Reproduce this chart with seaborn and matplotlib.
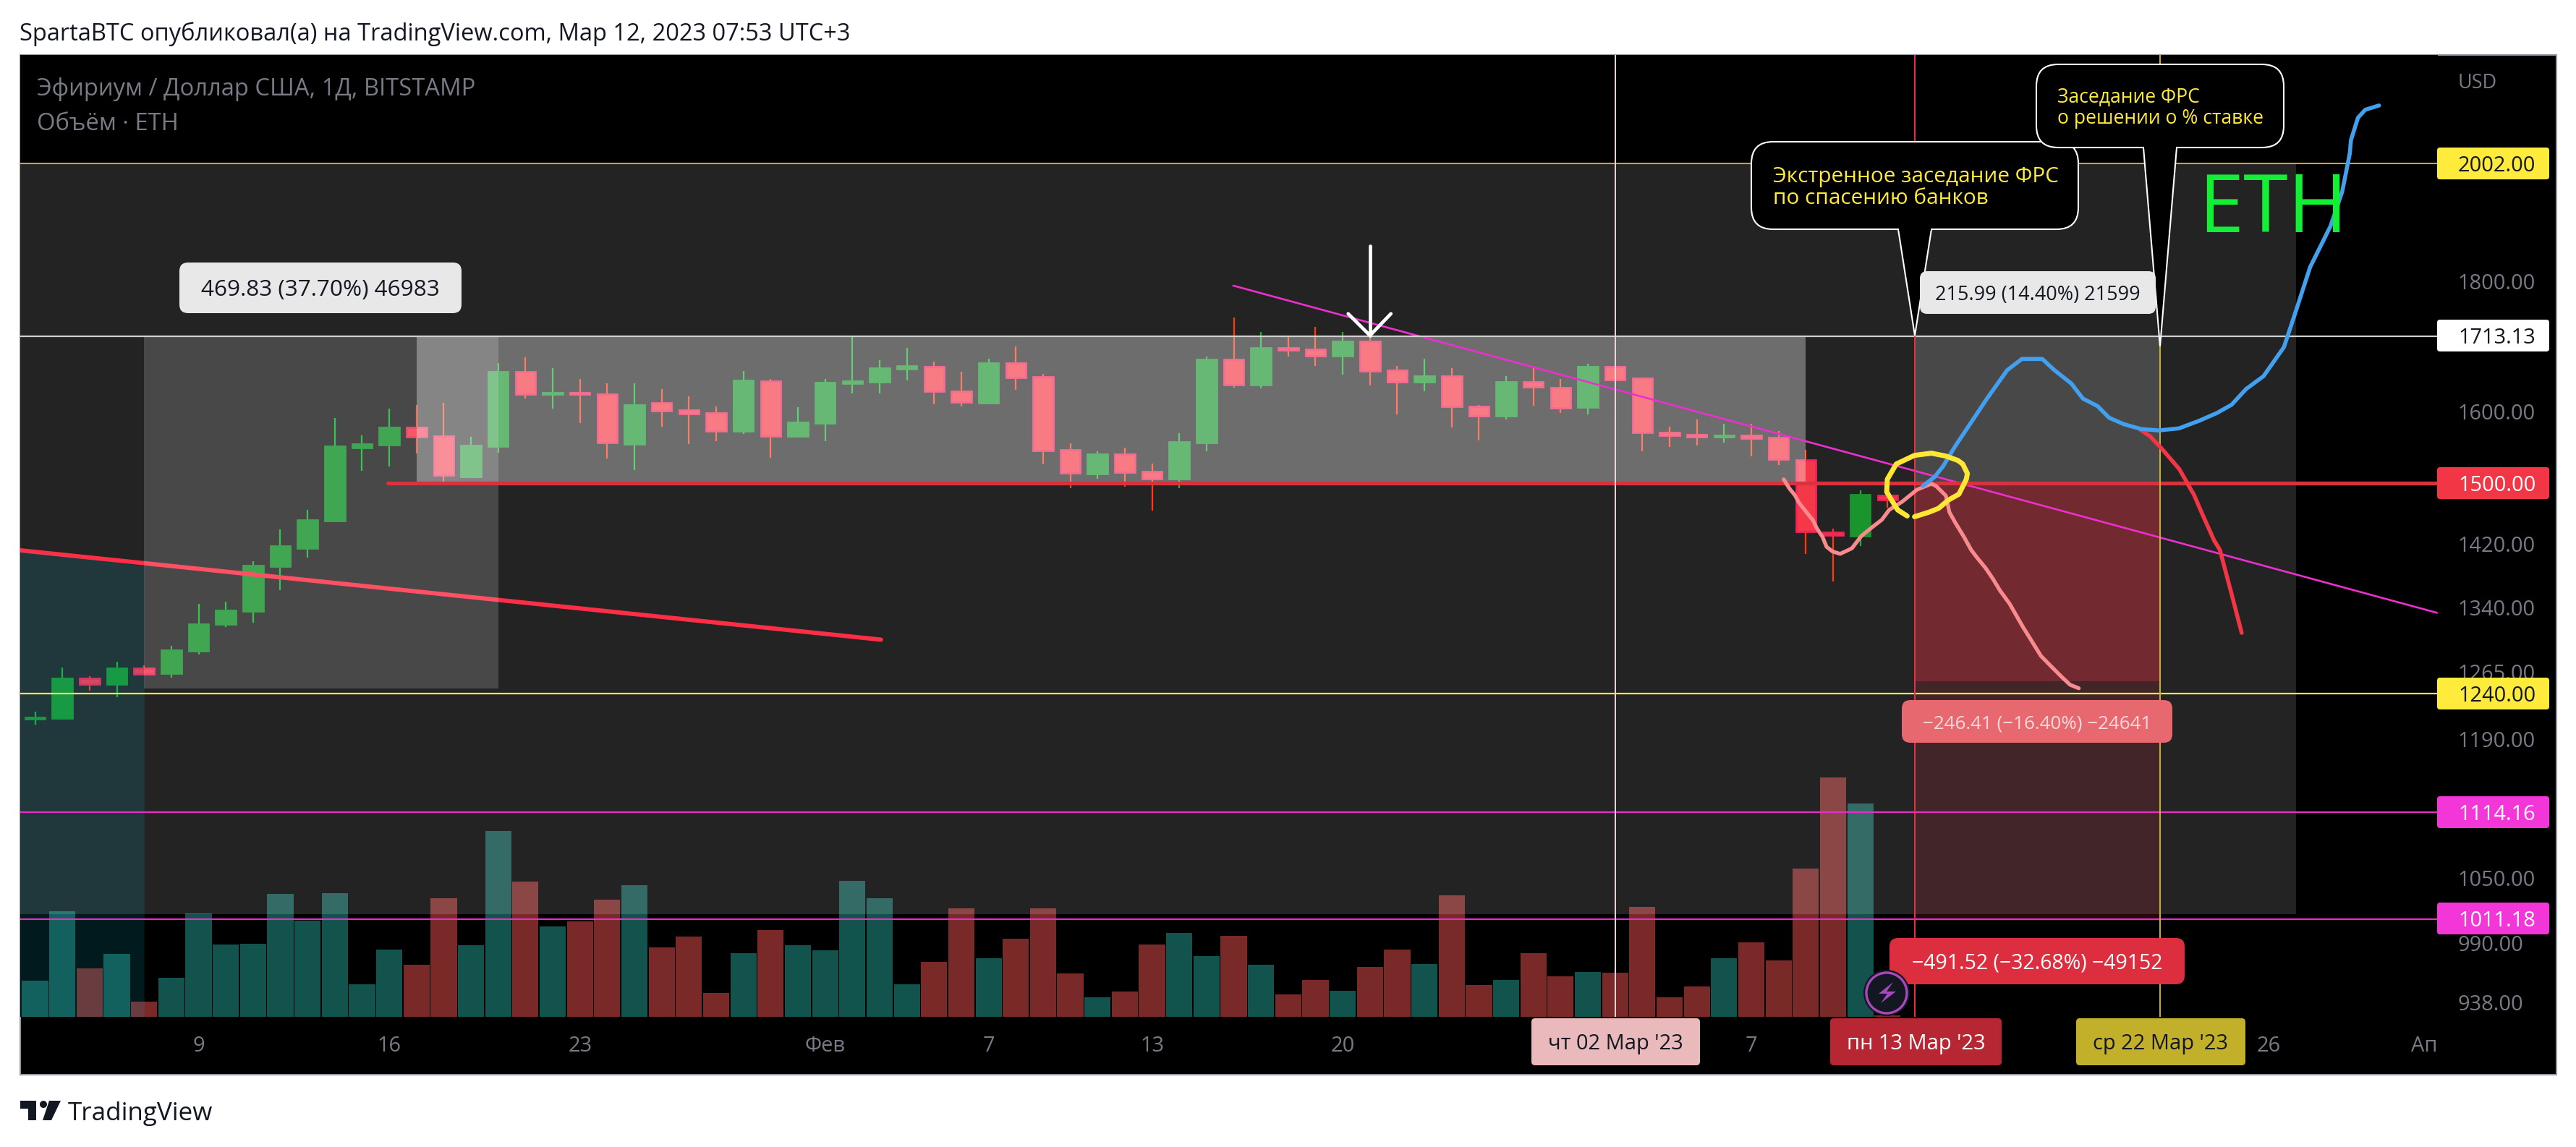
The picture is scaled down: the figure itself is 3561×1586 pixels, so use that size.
import matplotlib
matplotlib.use("Agg")
import matplotlib.pyplot as plt
import seaborn as sns
from matplotlib.patches import Circle, FancyBboxPatch, Polygon, Rectangle
from matplotlib.ticker import NullLocator
from matplotlib.transforms import Affine2D

# day of year 2023, one candle per day
days = list(range(3, 72))
opens = [1212, 1213, 1257, 1251, 1269, 1263, 1289, 1320, 1336, 1391, 1414, 1450, 1549, 1553, 1577, 1565, 1509,
         1551, 1659, 1626, 1628, 1626, 1554, 1613, 1602, 1598, 1572, 1645, 1565, 1584, 1642, 1644, 1663, 1666,
         1630, 1613, 1672, 1651, 1546, 1513, 1540, 1516, 1506, 1556, 1677, 1639, 1695, 1693, 1683, 1705, 1661,
         1644, 1652, 1608, 1594, 1644, 1635, 1606, 1666, 1649, 1570, 1567, 1564, 1566, 1563, 1532, 1435, 1430, 1483]
highs = [1220, 1270, 1260, 1276, 1272, 1295, 1345, 1347, 1398, 1438, 1464, 1591, 1566, 1604, 1610, 1613, 1564,
         1672, 1681, 1664, 1648, 1642, 1641, 1633, 1622, 1607, 1660, 1648, 1606, 1648, 1714, 1676, 1695, 1674,
         1659, 1678, 1697, 1656, 1555, 1544, 1549, 1527, 1569, 1682, 1742, 1720, 1712, 1727, 1719, 1712, 1667,
         1678, 1664, 1610, 1652, 1664, 1648, 1671, 1666, 1650, 1578, 1589, 1582, 1583, 1572, 1546, 1439, 1490, 1483]
lows = [1206, 1212, 1243, 1236, 1261, 1258, 1285, 1317, 1322, 1362, 1402, 1450, 1517, 1523, 1541, 1502, 1508,
        1542, 1619, 1604, 1584, 1534, 1518, 1578, 1554, 1558, 1568, 1535, 1563, 1558, 1627, 1627, 1646, 1611,
        1607, 1612, 1632, 1526, 1493, 1506, 1495, 1463, 1493, 1544, 1635, 1634, 1682, 1667, 1654, 1638, 1596,
        1630, 1577, 1559, 1589, 1609, 1598, 1596, 1647, 1544, 1550, 1552, 1556, 1537, 1525, 1407, 1372, 1417, 1467]
closes = [1214, 1257, 1251, 1269, 1262, 1290, 1320, 1337, 1392, 1417, 1451, 1551, 1554, 1577, 1564, 1511, 1552,
          1659, 1625, 1628, 1625, 1556, 1610, 1601, 1597, 1572, 1646, 1565, 1585, 1643, 1645, 1664, 1667, 1630,
          1614, 1672, 1650, 1545, 1514, 1540, 1515, 1506, 1557, 1677, 1639, 1695, 1692, 1683, 1705, 1660, 1644,
          1652, 1608, 1594, 1644, 1636, 1605, 1666, 1647, 1570, 1566, 1564, 1566, 1562, 1533, 1436, 1431, 1484, 1478]

volumes = [133, 390, 179, 232, 56, 144, 382, 267, 270, 455, 356, 457, 120, 248, 192, 438, 265, 687, 500, 334,
           353, 433, 487, 257, 297, 88, 235, 321, 265, 246, 503, 438, 120, 203, 401, 216, 289, 401, 160, 72, 93,
           267, 310, 224, 299, 192, 83, 136, 96, 184, 248, 195, 449, 117, 136, 235, 149, 166, 163, 406, 72, 112,
           216, 275, 208, 548, 885, 789, 5]
volume_side = ["g", "g", "r", "g", "r", "g", "g", "g", "g", "g", "g", "g", "g", "g", "r", "r", "g", "g", "r", "g",
               "r", "r", "g", "r", "r", "r", "g", "r", "g", "g", "g", "g", "g", "r", "r", "g", "r", "r", "r", "g",
               "r", "r", "g", "g", "r", "g", "r", "r", "g", "r", "r", "g", "r", "r", "g", "r", "r", "g", "r", "r",
               "r", "r", "g", "r", "r", "r", "r", "g", "r"]

# hand drawn forecasts
blue_x = [72.29, 72.72, 73.04, 73.47, 74.11, 74.65, 75.39, 75.93, 76.68, 77.10, 77.75, 78.17, 78.71, 79.14, 79.67,
          80.31, 80.95, 81.70, 82.45, 83.09, 83.63, 84.16, 84.80, 85.55, 85.98, 86.51, 87.26, 87.69, 87.97, 88.01,
          88.27, 88.54, 89.04]
blue_y = [1496, 1508, 1523, 1550, 1587, 1619, 1661, 1678, 1678, 1662, 1641, 1619, 1608, 1591, 1582, 1575, 1573,
          1576, 1587, 1598, 1610, 1633, 1652, 1696, 1751, 1823, 1892, 1952, 2021, 2045, 2087, 2102, 2110]
red_x = [80.28, 80.63, 81.05, 81.71, 82.25, 82.56, 82.99, 83.20, 83.62, 84.0]
red_y = [1574, 1565, 1548, 1519, 1484, 1458, 1424, 1412, 1358, 1310]
pink_x = [67.19, 67.39, 67.61, 67.74, 68.0, 68.27, 68.40, 68.61, 68.76, 68.98, 69.26, 69.69, 70.04, 70.39, 70.79,
          71.06, 71.54, 72.08, 72.61, 72.78, 73.14, 73.27, 73.49, 73.80, 74.07, 74.29, 74.60, 74.86, 75.13, 75.48,
          75.97, 76.28, 76.63, 76.94, 77.39, 77.70, 78.02]
pink_y = [1505, 1493, 1483, 1474, 1462, 1450, 1440, 1429, 1416, 1410, 1407, 1414, 1430, 1440, 1451, 1464, 1475,
          1491, 1499, 1496, 1483, 1461, 1447, 1429, 1412, 1402, 1389, 1376, 1361, 1345, 1317, 1301, 1283, 1273,
          1259, 1250, 1246]
ring_x = [71.72, 71.37, 71.10, 70.97, 70.99, 71.32, 71.99, 72.61, 73.14, 73.58, 73.76, 73.93, 73.89, 73.62, 73.23,
          72.87, 72.52, 71.99]
ring_y = [1456, 1464, 1480, 1488, 1505, 1526, 1538, 1541, 1537, 1531, 1526, 1513, 1505, 1485, 1477, 1466, 1461, 1455]

price_ticks = [1800, 1600, 1420, 1340, 1265, 1190, 1050, 990, 938]
time_ticks = [9, 16, 23, 32, 38, 44, 51, 66, 85, 90.7]
time_labels = ["9", "16", "23", "Фев", "7", "13", "20", "7", "26", "Ап"]

sns.set_theme(style="white")
plt.rcParams["font.family"] = ["Open Sans", "DejaVu Sans"]

W, H = 3562, 1586
fig = plt.figure(figsize=(W / 100, H / 100), dpi=100, facecolor="white")
# annotations are placed in picture pixels, y going down
px = Affine2D().scale(1 / W, -1 / H).translate(0, 1) + fig.transFigure


def fs(pixels):
    return pixels * 0.72


def put_text(x, y, s, **kw):
    kw.setdefault("va", "center_baseline")
    kw.setdefault("ha", "left")
    fig.text(x, y, s, transform=px, **kw)


fig.add_artist(Rectangle((28, 76), 3506, 1410, transform=px, facecolor="black", edgecolor="#9598A1",
                         linewidth=1.5, zorder=-1))

vol_ax = fig.add_axes([28 / W, 180 / H, 3342 / W, 1330 / H], facecolor="black", zorder=0)
ax = vol_ax.twinx()
ax.set_zorder(1)
ax.patch.set_visible(False)

# volume
sns.barplot(x=days, y=volumes, hue=volume_side, palette={"g": "#13534D", "r": "#782928"}, dodge=False,
            native_scale=True, width=0.96, saturation=1, linewidth=0, legend=False, ax=vol_ax)
vol_ax.set_ylim(0, 3559)
vol_ax.set_yticks([])
vol_ax.set_ylabel("")

# candles
ax.set_yscale("log")
for d, o, h, l, c in zip(days, opens, highs, lows, closes):
    up = c >= o
    ax.vlines(d, l, h, color="#14B82E" if up else "#FF3B14", linewidth=1.6, zorder=2)
    ax.bar(d, abs(c - o), bottom=min(o, c), width=0.73, color="#1A952E" if up else "#F53847",
           edgecolor="#1A952E" if up else "#F0245A", linewidth=2, zorder=2.1)

x_left, x_right = 2.454, 91.2
y_low, y_high = 925.9, 2208.6

# measure and range boxes
ax.fill_between([x_left, 86.0], 1016, 2002, color="white", alpha=0.14, linewidth=0, zorder=0)
ax.fill_between([x_left, 7], [1411.5, 1392], y_low, color="#0EBACF", alpha=0.14, linewidth=0, zorder=3)
ax.fill_between([7, 20], 1246, 1713.13, color="white", alpha=0.17, linewidth=0, zorder=3)
ax.fill_between([17, 68], 1502, 1713.13, color="white", alpha=0.336, linewidth=0, zorder=3)
ax.fill_between([72, 81], 1500, 1713.13, color="white", alpha=0.17, linewidth=0, zorder=3)
ax.fill_between([72, 81], 1010, 1500, color="#F23645", alpha=0.15, linewidth=0, zorder=3)
ax.fill_between([72, 81], 1254, 1500, color="#F23645", alpha=0.28, linewidth=0, zorder=3)

# trend lines and levels
ax.plot([x_left, 34.05], [1411.5, 1302], color="#FF2D45", linewidth=4.3, zorder=2.5, solid_capstyle="round")
ax.plot([46.98, 91.17], [1793, 1334], color="#EE2FD0", linewidth=1.9, zorder=4)
ax.axhline(2002, color="#C4AC20", linewidth=1.5, zorder=4)
ax.axhline(1713.13, color="#D0D0D0", linewidth=1.6, zorder=4)
ax.axhline(1240, color="#FFEB3B", linewidth=1.6, zorder=4)
ax.axhline(1114.16, color="#E62FC8", linewidth=1.6, zorder=4)
ax.axhline(1011.18, color="#E62FC8", linewidth=1.6, zorder=4)
ax.plot([15.94, x_right], [1500, 1500], color="#D8323F", linewidth=3.8, zorder=4, solid_capstyle="round")
ax.axvline(61, color="#F2D5D7", linewidth=1.4, zorder=4)
ax.axvline(72, color="#E23744", linewidth=1.4, zorder=4)
ax.axvline(81, color="#C9B429", linewidth=1.4, zorder=4)

# white arrow on the top
ax.plot([52, 52], [1859, 1714], color="white", linewidth=3.4, zorder=5, solid_capstyle="round")
ax.plot([51.2, 52, 52.77], [1748, 1714, 1748], color="white", linewidth=3.4, zorder=5,
        solid_capstyle="round", solid_joinstyle="round")

# forecasts
sns.lineplot(x=red_x, y=red_y, sort=False, estimator=None, color="#F23645", linewidth=4, zorder=5,
             solid_capstyle="round", ax=ax)
sns.lineplot(x=blue_x, y=blue_y, sort=False, estimator=None, color="#42A0EE", linewidth=4, zorder=5.1,
             solid_capstyle="round", ax=ax)
sns.lineplot(x=pink_x, y=pink_y, sort=False, estimator=None, color="#F98B8E", linewidth=3.8, zorder=5,
             solid_capstyle="round", ax=ax)
sns.lineplot(x=ring_x, y=ring_y, sort=False, estimator=None, color="#FFE733", linewidth=5, zorder=6,
             solid_capstyle="round", ax=ax)

ax.set_yticks(price_ticks, [f"{p:.2f}" for p in price_ticks])
ax.yaxis.set_minor_locator(NullLocator())
ax.tick_params(axis="y", which="both", length=0, pad=20, labelsize=fs(29), labelcolor="#787B86")
vol_ax.set_xticks(time_ticks, time_labels)
vol_ax.tick_params(axis="x", length=0, pad=19, labelsize=fs(29), labelcolor="#787B86")
ax.set_xlim(x_left, x_right)
vol_ax.set_xlim(x_left, x_right)
ax.set_ylim(y_low, y_high)
ax.set_ylabel("")
ax.set_xlabel("")
vol_ax.set_xlabel("")
for a in (ax, vol_ax):
    a.grid(False)
    for s in a.spines.values():
        s.set_visible(False)


def label(x0, y0, x1, y1, color, text, text_color, size=29, radius=10, left=None, z=20):
    box = FancyBboxPatch((x0 + radius, y0 + radius), x1 - x0 - 2 * radius, y1 - y0 - 2 * radius,
                         boxstyle=f"round,pad={radius},rounding_size={radius}", transform=px,
                         facecolor=color, edgecolor="none", linewidth=0, zorder=z)
    fig.add_artist(box)
    tx = (x0 + x1) / 2 if left is None else left
    put_text(tx, (y0 + y1) / 2, text, ha="center" if left is None else "left", color=text_color,
             fontsize=fs(size), zorder=z + 1)


def callout(x0, y0, x1, y1, base0, base1, tip, lines, text_x, text_ys, size, z):
    fig.add_artist(FancyBboxPatch((x0 + 30, y0 + 30), x1 - x0 - 60, y1 - y0 - 60,
                                  boxstyle="round,pad=30,rounding_size=30", transform=px, facecolor="black",
                                  edgecolor="white", linewidth=1.5, zorder=z))
    fig.add_artist(Polygon([(base0, y1), tip, (base1, y1)], closed=True, transform=px, facecolor="black",
                           edgecolor="white", linewidth=1.5, zorder=z + 0.1))
    fig.add_artist(Rectangle((base0 + 1, y1 - 3), base1 - base0 - 2, 5, transform=px, facecolor="black",
                             edgecolor="none", zorder=z + 0.2))
    for line, ty in zip(lines, text_ys):
        put_text(text_x, ty, line, color="#FFEB3B", fontsize=fs(size), zorder=z + 0.3)


# header and footer texts
put_text(27, 43, "SpartaBTC опубликовал(а) на TradingView.com, Мар 12, 2023 07:53 UTC+3", color="#131722",
         fontsize=fs(32.6))
put_text(51, 119, "Эфириум / Доллар США, 1Д, BITSTAMP", color="#787B86", fontsize=fs(32.8), zorder=20)
put_text(51, 168, "Объём · ETH", color="#787B86", fontsize=fs(32.8), zorder=20)
put_text(3398, 111, "USD", color="#787B86", fontsize=fs(27), zorder=20)
put_text(3142, 321, "ETH", ha="center", va="baseline", color="#12EF35", fontsize=fs(112), zorder=7)

# measure labels
label(248, 363, 638, 433, "#E8E8E8", "469.83 (37.70%) 46983", "#131722", size=31.5, radius=12)
callout(2421, 196, 2873, 317, 2624, 2670, (2647, 464), ["Экстренное заседание ФРС", "по спасению банков"],
        2451, [241, 271], 29.7, 20)
callout(2815, 89, 3157, 204, 2963, 3009, (2986, 479), ["Заседание ФРС", "о решении о % ставке"],
        2844, [131, 160], 26.5, 22)
label(2654, 375, 2980, 434, "#E8E8E8", "215.99 (14.40%) 21599", "#131722", size=27, z=24)
label(2629, 968, 3003, 1027, "#E8686F", "−246.41 (−16.40%) −24641", "#FBDADC", size=26, radius=12)
label(2612, 1297, 3020, 1361, "#DD2E3F", "−491.52 (−32.68%) −49152", "white", size=28.5, radius=12)

# price badges
for y, color, text, text_color in [(226, "#FFEB3B", "2002.00", "#131722"), (464, "white", "1713.13", "#131722"),
                                   (668, "#F23645", "1500.00", "white"), (959, "#FFEB3B", "1240.00", "#131722"),
                                   (1123, "#F236D8", "1114.16", "white"), (1270, "#F236D8", "1011.18", "white")]:
    label(3369, y - 22, 3524, y + 22, color, text, text_color, radius=4, left=3398)

# date badges
label(2117, 1408, 2350, 1473, "#E9B9BC", "чт 02 Мар '23", "#131722", radius=5)
label(2530, 1408, 2767, 1473, "#B72733", "пн 13 Мар '23", "white", radius=5)
label(2870, 1408, 3104, 1473, "#C2B02A", "ср 22 Мар '23", "#131722", radius=5)

# lightning badge
fig.add_artist(Circle((2608, 1373), 32, transform=px, facecolor="#131722", edgecolor="none", zorder=26))
fig.add_artist(Circle((2608, 1373), 28, transform=px, facecolor="#131722", edgecolor="#AB47BC", linewidth=2.4,
                      zorder=27))
fig.add_artist(Polygon([(2617, 1358), (2597, 1374), (2609, 1374), (2600, 1387), (2621, 1371), (2608, 1371)],
                       closed=True, transform=px, facecolor="#AB47BC", edgecolor="none", zorder=28))

# logo
dark = "#131722"
fig.add_artist(Polygon([(28, 1522), (50, 1522), (50, 1549), (39, 1549), (39, 1533), (28, 1533)], closed=True,
                       transform=px, facecolor=dark, edgecolor="none"))
fig.add_artist(Circle((60, 1527), 5, transform=px, facecolor=dark, edgecolor="none"))
fig.add_artist(Polygon([(68, 1522), (84, 1522), (71, 1549), (59, 1549)], closed=True, transform=px,
                       facecolor=dark, edgecolor="none"))
put_text(94, 1549, "TradingView", va="baseline", color=dark, fontsize=fs(35))

fig.savefig("out.png", dpi=100, facecolor="white")
plt.close(fig)
